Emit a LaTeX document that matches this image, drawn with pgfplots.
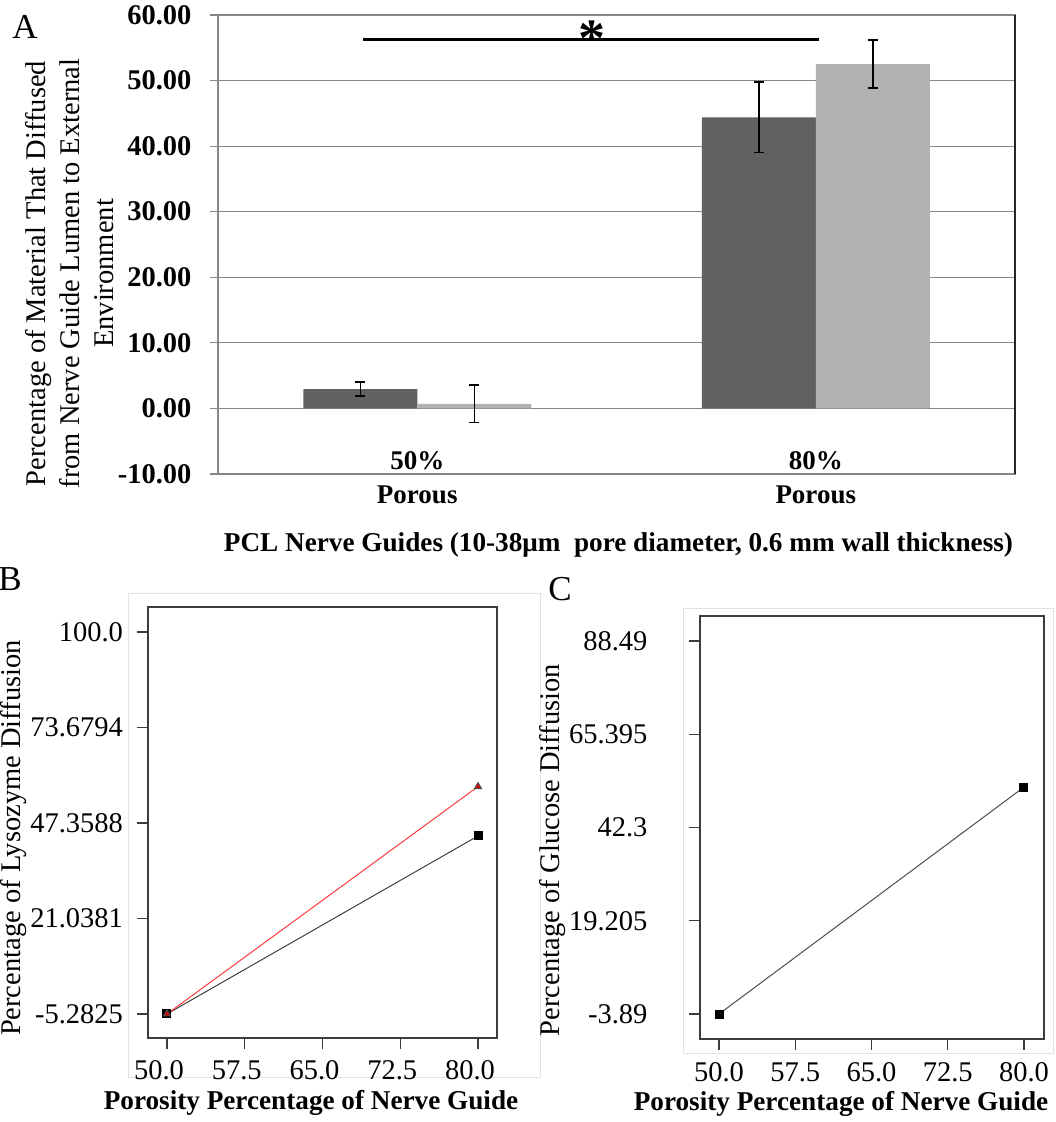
\documentclass[border=0pt]{standalone}
\usepackage{pgfplots}
\pgfplotsset{compat=1.18}
\usepackage{fontspec}
\setmainfont{Liberation Serif}
\definecolor{darkbar}{RGB}{97,97,97}
\definecolor{lightbar}{RGB}{178,178,178}
\definecolor{gridgray}{RGB}{134,134,134}
\definecolor{framegray}{RGB}{60,60,60}
\definecolor{outergray}{RGB}{225,225,225}
\definecolor{redline}{RGB}{255,60,60}
\newcommand{\tf}{\fontsize{28.5bp}{34bp}\selectfont}
\newcommand{\bfl}{\bfseries\fontsize{27.2bp}{32bp}\selectfont}
\begin{document}
\begin{tikzpicture}
\path[use as bounding box] (0,0) rectangle (1056bp,1122bp);
% ---------------- Panel A ----------------
\begin{axis}[
  at={(218bp,648bp)}, anchor=south west, scale only axis,
  width=797bp, height=459bp,
  xmin=-0.5, xmax=1.5, ymin=-10, ymax=60,
  ybar=0pt, bar width=114bp,
  xtick={0,1}, xticklabels={50\%,80\%},
  xticklabel style={font=\bfseries\fontsize{27bp}{32bp}\selectfont, anchor=base, yshift=12.5bp},
  extra x ticks={0,1}, extra x tick labels={Porous,Porous},
  extra x tick style={xticklabel style={anchor=base, yshift=-34.5bp}, tick style={draw=none}},
  ytick={-10,0,10,20,30,40,50,60},
  yticklabels={-10.00,0.00,10.00,20.00,30.00,40.00,50.00,60.00},
  yticklabel style={font=\bfseries\tf, xshift=-15bp},
  ymajorgrids, grid style={gridgray, line width=1.2bp},
  axis line style={gridgray, line width=1.2bp},
  ytick pos=left, tick align=outside, major tick length=8bp,
  ytick style={gridgray, line width=1.2bp},
  xtick style={draw=none},
  clip=false,
]
\addplot[fill=darkbar, draw=none,
  error bars/.cd, y dir=both, y explicit,
  error bar style={black, line width=1.5bp},
  error mark options={rotate=90, mark size=5bp, line width=1.5bp, black}]
  coordinates {(0,2.95) +- (0,1.05) (1,44.4) +- (0,5.4)};
\addplot[fill=lightbar, draw=none,
  error bars/.cd, y dir=both, y explicit,
  error bar style={black, line width=1.5bp},
  error mark options={rotate=90, mark size=5bp, line width=1.5bp, black}]
  coordinates {(0,0.7) +- (0,2.87) (1,52.5) +- (0,3.65)};
\draw[black, line width=2.7bp] (axis cs:-0.136,56.3) -- (axis cs:1.008,56.3);
\node[font=\bfseries\fontsize{54bp}{54bp}\selectfont, anchor=base] at (axis cs:0.438,53.7) {*};
\draw[black!85, line width=1.2bp] (rel axis cs:1,0) -- (rel axis cs:1,1);
\end{axis}
\node[font=\tf, rotate=90, align=center] at (70bp,848.5bp)
  {Percentage of Material That Diffused\\from Nerve Guide Lumen to External\\Environment};
\node[font=\bfl] at (618.5bp,577bp)
  {PCL Nerve Guides (10-38μm\ \ pore diameter, 0.6 mm wall thickness)};
\node[font=\fontsize{35bp}{40bp}\selectfont] at (25bp,1095bp) {A};
% ---------------- Panel B ----------------
\draw[outergray, line width=0.8bp] (128bp,45bp) rectangle (540bp,529bp);
\begin{axis}[
  at={(148bp,84bp)}, anchor=south west, scale only axis,
  width=349bp, height=431bp,
  xmin=48.17, xmax=81.83, ymin=-11.9, ymax=106.9,
  xtick={50,57.5,65,72.5,80}, xticklabels={50.0,57.5,65.0,72.5,80.0},
  ytick={-5.2825,21.0381,47.3588,73.6794,100},
  yticklabels={-5.2825,21.0381,47.3588,73.6794,100.0},
  ticklabel style={font=\tf},
  yticklabel style={xshift=-10.5bp},
  xticklabel style={yshift=-8bp, xshift=-8bp},
  tick align=outside, xtick pos=left, ytick pos=left, major tick length=11bp,
  axis line style={framegray, line width=1.6bp},
  tick style={framegray, line width=1.3bp},
]
\addplot[color=black!75, line width=1bp, mark=square*, mark options={black, solid}, mark size=4bp]
  coordinates {(50,-5.28) (80,43.8)};
\addplot[color=redline, line width=1bp, mark=triangle*, mark options={fill=red!85!black, draw=black!70, solid}, mark size=4bp]
  coordinates {(50,-5.28) (80,57.4)};
\end{axis}
\node[font=\tf, rotate=90] at (14bp,284bp) {Percentage of Lysozyme Diffusion};
\node[font=\bfl] at (311bp,19bp) {Porosity Percentage of Nerve Guide};
\node[font=\fontsize{35bp}{40bp}\selectfont] at (10bp,543bp) {B};
% ---------------- Panel C ----------------
\draw[outergray, line width=0.8bp] (683bp,69bp) rectangle (1053bp,514bp);
\begin{axis}[
  at={(700bp,83bp)}, anchor=south west, scale only axis,
  width=344bp, height=423bp,
  xmin=48.13, xmax=81.97, ymin=-10.08, ymax=94.68,
  xtick={50,57.5,65,72.5,80}, xticklabels={50.0,57.5,65.0,72.5,80.0},
  ytick={-3.89,19.205,42.3,65.395,88.49},
  yticklabels={-3.89,19.205,42.3,65.395,88.49},
  ticklabel style={font=\tf},
  yticklabel style={xshift=-38bp},
  xticklabel style={yshift=-9bp},
  tick align=outside, xtick pos=left, ytick pos=left, major tick length=11bp,
  axis line style={framegray, line width=1.6bp},
  tick style={framegray, line width=1.3bp},
]
\addplot[color=black!70, line width=1bp, mark=square*, mark options={black, solid}, mark size=4bp]
  coordinates {(50,-3.89) (80,52.3)};
\end{axis}
\node[font=\tf, rotate=90] at (553bp,272bp) {Percentage of Glucose Diffusion};
\node[font=\bfl] at (841bp,18bp) {Porosity Percentage of Nerve Guide};
\node[font=\fontsize{35bp}{40bp}\selectfont] at (560bp,533bp) {C};
\end{tikzpicture}
\end{document}
